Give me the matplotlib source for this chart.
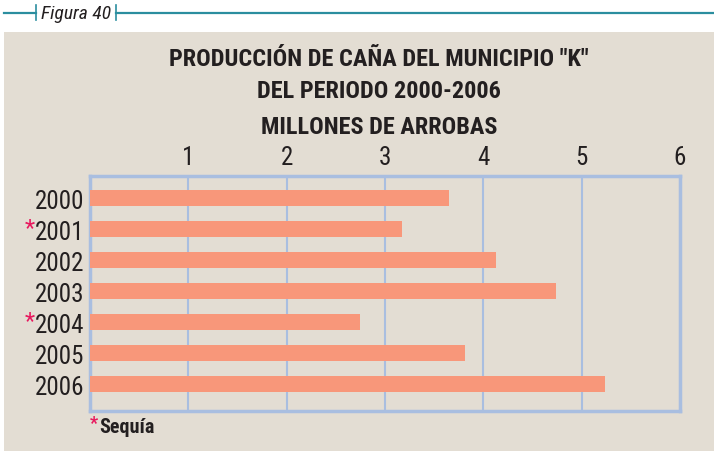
import matplotlib.pyplot as plt
from matplotlib import font_manager
from matplotlib.patches import Rectangle
from matplotlib.lines import Line2D

#####################################################################################
# Producción de caña, millones de arrobas
years = ["2000", "2001", "2002", "2003", "2004", "2005", "2006"]
production = [3.65, 3.17, 4.13, 4.74, 2.75, 3.81, 5.24]
drought_years = ["2001", "2004"]
x_ticks = [1, 2, 3, 4, 5, 6]

title_lines = ['PRODUCCIÓN DE CAÑA DEL MUNICIPIO "K"',
               "DEL PERIODO 2000-2006",
               "MILLONES DE ARROBAS"]

# pick a narrow face if one is around
installed = {f.name for f in font_manager.fontManager.ttflist}
narrow = "DejaVu Sans"
for cand in ["Liberation Sans Narrow", "Roboto Condensed", "Open Sans Condensed",
             "Noto Sans Condensed", "DejaVu Sans Condensed"]:
  if cand in installed:
    narrow = cand
    break
NARROW = [narrow, "DejaVu Sans"]
FONT = dict(family=NARROW, stretch="condensed")

BG = "#E3DDD3"
BAR = "#F8977A"
GRID = "#A9BEE0"
TEAL = "#2B8E9F"
RED = "#E8175D"
TXT = "#231F20"

#####################################################################################
W, H = 714, 452
fig = plt.figure(figsize=(W / 100, H / 100), dpi=100, facecolor="white")

# beige panel
panel = Rectangle((4 / W, 0), 1 - 4 / W, 1 - 33 / H, transform=fig.transFigure,
                  facecolor=BG, edgecolor="none", zorder=-5)
fig.add_artist(panel)

# header line with the figure number
yl = 1 - 14 / H
fig.add_artist(Line2D([4 / W, 36 / W], [yl, yl], color=TEAL, lw=1.6))
fig.add_artist(Line2D([116 / W, 1], [yl, yl], color=TEAL, lw=1.6))
for xb in (36, 116):
  fig.add_artist(Line2D([xb / W, xb / W], [1 - 6 / H, 1 - 21 / H], color=TEAL, lw=1.2))
fig.text(76 / W, yl, "Figura 40", style="italic", fontsize=14,
         color=TXT, ha="center", va="center", **FONT)

# titles
for y_px, line in zip([60, 91, 128], title_lines):
  fig.text(379 / W, 1 - y_px / H, line, weight="bold", fontsize=17.5,
           color=TXT, ha="center", va="center", **FONT)

ax = fig.add_axes([90 / W, 1 - 412 / H, 590 / W, 235 / H])
ax.set_zorder(2)
ax.set_facecolor(BG)
pos = list(range(len(years)))
ax.barh(pos, production, height=0.52, color=BAR, zorder=3)

ax.set_xlim(0, 6)
ax.set_ylim(6.87, -0.71)
ax.xaxis.tick_top()
ax.set_xticks(x_ticks)
ax.set_xticklabels([str(t) for t in x_ticks], fontsize=18, color=TXT, **FONT)
ax.set_yticks(pos)
ax.set_yticklabels(years, fontsize=18, color=TXT, **FONT)
ax.tick_params(axis="y", length=0, pad=4)
ax.tick_params(axis="x", length=0, pad=5)
ax.grid(axis="x", color=GRID, lw=1.5, zorder=1)
for s in ax.spines.values():
  s.set_color(GRID)
  s.set_linewidth(2.5)

# drought marks next to the year labels
for yr in drought_years:
  ax.annotate("*", xy=(0, years.index(yr)), xycoords=("axes fraction", "data"),
              xytext=(-55, 4), textcoords="offset pixels", ha="right", va="center_baseline",
              fontsize=17, color=RED, **FONT)

fig.text(90 / W, 1 - 424 / H, "*", weight="bold", fontsize=13,
         color=RED, ha="left", va="center", **FONT)
fig.text(99 / W, 1 - 428 / H, "Sequía", weight="bold", fontsize=14.5,
         color=TXT, ha="left", va="center", **FONT)

fig.savefig("out.png", dpi=100, facecolor="white")
